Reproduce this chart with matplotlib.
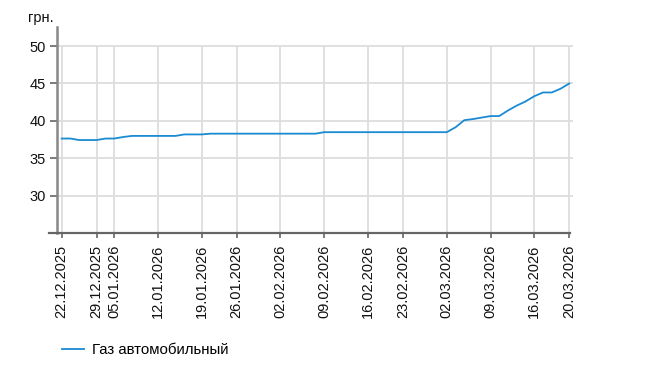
import matplotlib
matplotlib.use("Agg")
import matplotlib.pyplot as plt
from matplotlib.lines import Line2D

plt.rcParams['font.family'] = ['Liberation Sans', 'DejaVu Sans']

dates = (
    ["22.12.2025", "23.12.2025", "24.12.2025", "25.12.2025",
     "29.12.2025", "30.12.2025"]
    + [f"{d:02d}.01.2026" for d in (5, 6, 7, 8, 9, 12, 13, 14, 15, 16,
                                     19, 20, 21, 22, 26, 27, 28, 29, 30)]
    + [f"{d:02d}.02.2026" for d in (2, 3, 4, 5, 6, 9, 10, 11, 12, 13,
                                     16, 17, 18, 19, 23, 24, 25, 26, 27)]
    + [f"{d:02d}.03.2026" for d in (2, 3, 4, 5, 6, 9, 10, 11, 12, 13,
                                     16, 17, 18, 19, 20)]
)

prices = [
    37.65, 37.65, 37.45, 37.45, 37.45, 37.65, 37.65, 37.85, 38.0, 38.0,
    38.0, 38.0, 38.0, 38.0, 38.2, 38.2, 38.2, 38.3, 38.3, 38.3,
    38.3, 38.3, 38.3, 38.3, 38.3, 38.3, 38.3, 38.3, 38.3, 38.3,
    38.5, 38.5, 38.5, 38.5, 38.5, 38.5, 38.5, 38.5, 38.5, 38.5,
    38.5, 38.5, 38.5, 38.5, 38.5, 39.15, 40.1, 40.25, 40.45, 40.65,
    40.65, 41.4, 42.05, 42.6, 43.3, 43.8, 43.8, 44.3, 45.0,
]

tick_labels = ["22.12.2025", "29.12.2025", "05.01.2026", "12.01.2026",
               "19.01.2026", "26.01.2026", "02.02.2026", "09.02.2026",
               "16.02.2026", "23.02.2026", "02.03.2026", "09.03.2026",
               "16.03.2026", "20.03.2026"]
y_ticks = [30, 35, 40, 45, 50]
series_name = "Газ автомобильный"
unit = "грн."

W, H = 651, 388
fig = plt.figure(figsize=(W / 100, H / 100), dpi=100)
ax = fig.add_axes([56.7 / W, 1 - 233.3 / H, (572.7 - 56.7) / W, (233.3 - 26.7) / H])

x = list(range(len(dates)))
tick_pos = [dates.index(t) for t in tick_labels]

grid_c = "#dddddd"
line_c = "#1a8ad2"
ax.set_xlim(-0.571, 58.39)
ax.set_ylim(25, 52.58)

for yv in y_ticks:
    ax.axhline(yv, color=grid_c, lw=1.3, zorder=1)
ax.vlines(tick_pos, 25, max(y_ticks), color=grid_c, lw=1.3, zorder=1)

ax.plot(x, prices, color=line_c, lw=1.3, zorder=3, label=series_name)

ax.set_xticks(tick_pos)
ax.set_xticklabels(tick_labels, rotation=90, fontsize=10.5, color="#111111")
ax.set_yticks(y_ticks)
ax.set_yticklabels([str(v) for v in y_ticks], fontsize=10.5, color="#111111")

for s in ("top", "right"):
    ax.spines[s].set_visible(False)
ax.spines["left"].set_color("#888888")
ax.spines["left"].set_linewidth(1.8)
ax.spines["bottom"].set_color("#666666")
ax.spines["bottom"].set_linewidth(1.6)
ax.spines["bottom"].set_bounds(-1.42, 58.05)

ax.tick_params(axis="y", length=4.8, width=1.2, color="#666666", pad=3)
ax.tick_params(axis="x", length=3.6, width=1.2, color="#666666", pad=4.5)

fig.text(28.3 / W, 1 - 21.7 / H, unit, fontsize=10.5, color="#111111",
         ha="left", va="baseline")

fig.legend(handles=[Line2D([], [], color=line_c, lw=1.3)], labels=[series_name],
           loc="center left", bbox_to_anchor=(61.7 / W, 1 - 350 / H),
           frameon=False, handlelength=1.5, handletextpad=0.53,
           borderpad=0, borderaxespad=0,
           prop={'family': ['Liberation Sans', 'DejaVu Sans'], 'size': 10.8})

fig.savefig("out.png", dpi=100)
